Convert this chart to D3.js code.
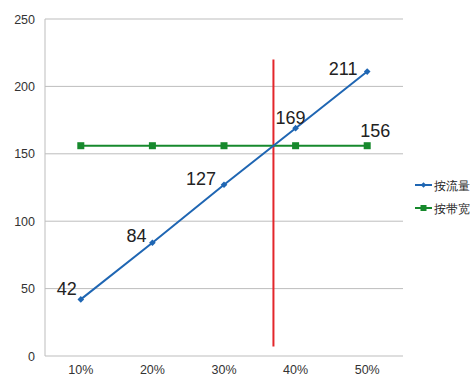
<!DOCTYPE html>
<html>
<head>
<meta charset="utf-8">
<script src="https://cdn.jsdelivr.net/npm/d3@7"></script>
<style>
  body { margin: 0; background: #fff; }
  text { font-family: "Liberation Sans", Arial, sans-serif; }
</style>
</head>
<body>
<svg id="drawing_region"></svg>
<script>
const categories = ["10%", "20%", "30%", "40%", "50%"];
const byTraffic = [42, 84, 127, 169, 211];
const byBandwidth = [156, 156, 156, 156, 156];
const yTicks = [0, 50, 100, 150, 200, 250];
const seriesNames = ["按流量", "按带宽"];
const redLineRange = [7, 220];

const config = {
    width: 475,
    height: 390,
    margin: {top: 19, right: 72, bottom: 34, left: 45}
};

const svg = d3.select('#drawing_region')
    .attr('width', config.width)
    .attr('height', config.height);

const inner_width = config.width - config.margin.left - config.margin.right;
const inner_height = config.height - config.margin.top - config.margin.bottom;

const chart = svg.append('g')
    .attr('transform', `translate(${config.margin.left}, ${config.margin.top})`);

const xscale = d3.scaleBand()
    .domain(categories)
    .range([0, inner_width]);

const yscale = d3.scaleLinear()
    .domain([0, 250])
    .range([inner_height, 0]);

const cx = c => xscale(c) + xscale.bandwidth() / 2;

// gridlines
chart.append('g')
    .selectAll('line')
    .data(yTicks)
    .enter()
    .append('line')
    .attr('x1', 0)
    .attr('x2', inner_width)
    .attr('y1', d => yscale(d))
    .attr('y2', d => yscale(d))
    .attr('stroke', '#bdbdbd')
    .attr('stroke-width', 1);

chart.append('line')
    .attr('x1', 0).attr('x2', 0)
    .attr('y1', 0).attr('y2', inner_height)
    .attr('stroke', '#bdbdbd');

// axes
const yaxis = d3.axisLeft(yscale).tickValues(yTicks).tickSize(0).tickPadding(10);
const yaxis_group = chart.append('g').call(yaxis);
yaxis_group.select('.domain').remove();
yaxis_group.selectAll('text').attr('font-size', 12.5).attr('fill', '#333');

const xaxis = d3.axisBottom(xscale).tickSize(0).tickPadding(9);
const xaxis_group = chart.append('g')
    .attr('transform', `translate(0, ${inner_height})`)
    .call(xaxis);
xaxis_group.select('.domain').remove();
xaxis_group.selectAll('text').attr('font-size', 12.5).attr('fill', '#333');

// red vertical line at intersection
let xCross = null;
for (let i = 0; i < categories.length - 1; i++) {
    const d0 = byTraffic[i] - byBandwidth[i];
    const d1 = byTraffic[i + 1] - byBandwidth[i + 1];
    if (d0 <= 0 && d1 >= 0) {
        const t = -d0 / (d1 - d0);
        xCross = cx(categories[i]) + t * (cx(categories[i + 1]) - cx(categories[i]));
    }
}
chart.append('line')
    .attr('x1', xCross).attr('x2', xCross)
    .attr('y1', yscale(redLineRange[0]))
    .attr('y2', yscale(redLineRange[1]))
    .attr('stroke', '#e3262b')
    .attr('stroke-width', 2);

const line = d3.line()
    .x((d, i) => cx(categories[i]))
    .y(d => yscale(d));

const blue = '#1f66b3';
const green = '#16892c';

chart.append('path')
    .datum(byBandwidth)
    .attr('d', line)
    .attr('fill', 'none')
    .attr('stroke', green)
    .attr('stroke-width', 2);

chart.append('path')
    .datum(byTraffic)
    .attr('d', line)
    .attr('fill', 'none')
    .attr('stroke', blue)
    .attr('stroke-width', 2);

chart.selectAll('.sq')
    .data(byBandwidth)
    .enter()
    .append('rect')
    .attr('x', (d, i) => cx(categories[i]) - 3.5)
    .attr('y', d => yscale(d) - 3.5)
    .attr('width', 7)
    .attr('height', 7)
    .attr('fill', green);

const diamond = d3.symbol().type(d3.symbolSquare).size(22);
chart.selectAll('.dm')
    .data(byTraffic)
    .enter()
    .append('path')
    .attr('d', diamond)
    .attr('transform', (d, i) => `translate(${cx(categories[i])}, ${yscale(d)}) rotate(45)`)
    .attr('fill', blue);

// value labels
const labelOffsets = [[-14, -4], [-16, -1], [-23, 0], [-5, -4], [-24, 3]];
chart.selectAll('.lbl')
    .data(byTraffic)
    .enter()
    .append('text')
    .attr('x', (d, i) => cx(categories[i]) + labelOffsets[i][0])
    .attr('y', (d, i) => yscale(d) + labelOffsets[i][1])
    .attr('text-anchor', 'middle')
    .attr('font-size', 18)
    .attr('fill', '#222')
    .text(d => d);

const last = byBandwidth.length - 1;
chart.append('text')
    .attr('x', cx(categories[last]) + 8)
    .attr('y', yscale(byBandwidth[last]) - 9)
    .attr('text-anchor', 'middle')
    .attr('font-size', 18)
    .attr('fill', '#222')
    .text(byBandwidth[last]);

// legend
const legend = svg.append('g').attr('transform', 'translate(415, 185)');
const colors = [blue, green];
seriesNames.forEach((name, i) => {
    const g = legend.append('g').attr('transform', `translate(0, ${i * 23})`);
    g.append('line').attr('x1', 0).attr('x2', 17).attr('y1', 0).attr('y2', 0)
        .attr('stroke', colors[i]).attr('stroke-width', 2);
    if (i === 0) {
        g.append('path').attr('d', d3.symbol().type(d3.symbolSquare).size(16))
            .attr('transform', 'translate(8.5,0) rotate(45)').attr('fill', colors[i]);
    } else {
        g.append('rect').attr('x', 5.5).attr('y', -3).attr('width', 6).attr('height', 6)
            .attr('fill', colors[i]);
    }
    g.append('text').attr('x', 19).attr('y', 4.5)
        .attr('font-size', 12)
        .attr('font-family', '"Noto Sans CJK SC", sans-serif')
        .attr('fill', '#222')
        .text(name);
});
</script>
</body>
</html>
